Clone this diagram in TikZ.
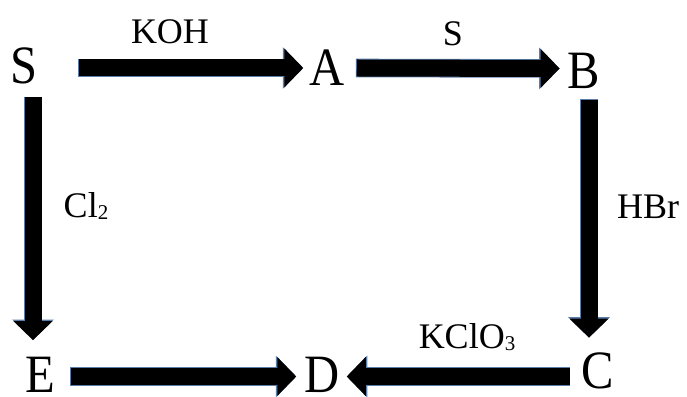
\documentclass[tikz,border=0pt]{standalone}
\usepackage{fontspec}
\setmainfont{Liberation Serif}
\usetikzlibrary{arrows.meta}
\definecolor{edgeblue}{RGB}{90,125,170}
\newcommand{\mysub}[1]{\raisebox{-0.06em}{\fontsize{21}{22}\selectfont #1}}
\newcommand{\cond}[1]{\scalebox{0.9}[1]{#1}}
\tikzset{
  big/.style={inner sep=0pt, font=\fontsize{54}{58}\selectfont},
  lbl/.style={inner sep=0pt, font=\fontsize{36}{40}\selectfont},
  rx/.style={line width=17pt, draw=black, -{Triangle[width=38pt,length=19pt]},
    preaction={draw=edgeblue, line width=18.6pt, shorten <=-0.8pt,
      -{Triangle[width=40.5pt,length=20.5pt]}}},
}
\begin{document}
\begin{tikzpicture}[x=1pt,y=1pt]
\useasboundingbox (0,0) rectangle (687,396);
% species
\node[big] (S) at (24,330) {\cond{S}};
\node[big] (A) at (327,328) {\cond{A}};
\node[big] (B) at (584,325) {\cond{B}};
\node[big] (C) at (598,25) {\cond{C}};
\node[big] (D) at (322,21) {\cond{D}};
\node[big] (E) at (40,21) {\cond{E}};
% reagents
\node[lbl] (kKOH) at (170,364) {KOH};
\node[lbl] (kS) at (453,362) {S};
\node[lbl] (kCl) at (86,190) {Cl\mysub{2}};
\node[lbl] (kHBr) at (648,189) {HBr};
\node[lbl] (kKClO) at (467,59) {KClO\mysub{3}};
% arrows
\draw[rx] ([xshift=41pt,yshift=-2pt]S.east) -- ([xshift=-6pt]A.west);
\draw[rx] ([xshift=12pt]A.east) -- ([xshift=-8pt,yshift=2.5pt]B.west);
\draw[rx] ([xshift=9pt,yshift=-13pt]S.south) -- ([xshift=-7pt,yshift=17pt]E.north);
\draw[rx] ([xshift=5pt,yshift=-11pt]B.south) -- ([xshift=-9pt,yshift=15pt]C.north);
\draw[rx] ([xshift=16pt,yshift=-1.5pt]E.east) -- ([xshift=-8pt,yshift=-1.5pt]D.west);
\draw[rx] ([xshift=-12pt,yshift=-5.5pt]C.west) -- ([xshift=7pt,yshift=-1.5pt]D.east);
\end{tikzpicture}
\end{document}
